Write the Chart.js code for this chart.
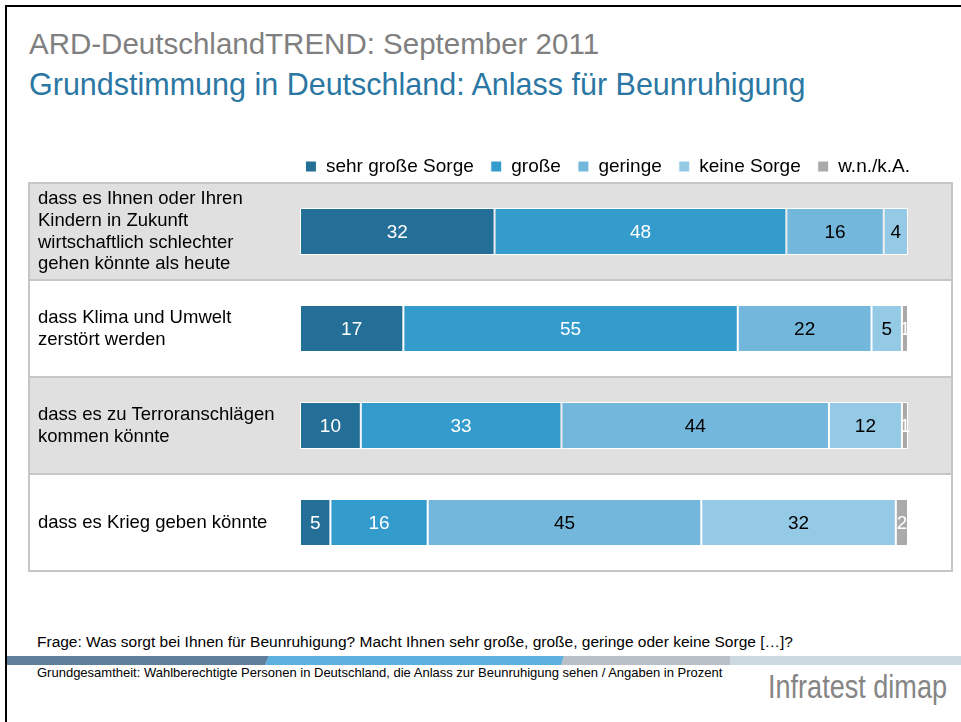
<!DOCTYPE html>
<html>
<head>
<meta charset="utf-8">
<script src="https://cdn.jsdelivr.net/npm/chart.js@4/dist/chart.umd.min.js"></script>
<style>
  body { margin: 0; background: #fff; font-family: "Liberation Sans", Arial, sans-serif; }
  #page { position: relative; width: 961px; height: 722px; overflow: hidden; }
  #frame { position: absolute; left: 5px; top: 5px; width: 970px; height: 730px; border-left: 2px solid #000; border-top: 2px solid #000; }
  .t { position: absolute; white-space: nowrap; }
  #title { left: 29px; top: 27px; font-size: 29.5px; color: #808080; }
  #sub { left: 29px; top: 67px; font-size: 30.5px; color: #2b77a3; }
  #chartBox { position: absolute; left: 28px; top: 137px; width: 925px; height: 436px; }
  #frage { left: 37px; top: 633px; font-size: 15.5px; color: #000; }
  #basis { left: 37px; top: 665px; font-size: 13px; color: #000; }
  #logo { left: 768px; top: 668px; font-size: 33px; color: #858585; transform: scaleX(0.82); transform-origin: left top; }
  .stripe { position: absolute; top: 656px; height: 9px; }
</style>
</head>
<body>
<div id="page">
  <div id="frame"></div>
  <div class="t" id="title">ARD-DeutschlandTREND: September 2011</div>
  <div class="t" id="sub">Grundstimmung in Deutschland: Anlass für Beunruhigung</div>
  <div id="chartBox"><canvas id="myChart"></canvas></div>
  <div class="t" id="frage">Frage: Was sorgt bei Ihnen für Beunruhigung? Macht Ihnen sehr große, große, geringe oder keine Sorge […]?</div>
  <div class="stripe" style="left:7px;width:262px;background:#5f7f9b;clip-path:polygon(0 0,100% 0,98.5% 100%,0 100%)"></div>
  <div class="stripe" style="left:265px;width:300px;background:#5eb0df;clip-path:polygon(1.3% 0,100% 0,99.2% 100%,0 100%)"></div>
  <div class="stripe" style="left:561px;width:175px;background:#b9c0c8;clip-path:polygon(1.5% 0,100% 0,98% 100%,0 100%)"></div>
  <div class="stripe" style="left:730px;width:231px;background:#ccd9e0"></div>
  <div class="t" id="basis">Grundgesamtheit: Wahlberechtigte Personen in Deutschland, die Anlass zur Beunruhigung sehen / Angaben in Prozent</div>
  <div class="t" id="logo">Infratest dimap</div>
</div>
<script>
const categories = [
  ["dass es Ihnen oder Ihren", "Kindern in Zukunft", "wirtschaftlich schlechter", "gehen könnte als heute"],
  ["dass Klima und Umwelt", "zerstört werden"],
  ["dass es zu Terroranschlägen", "kommen könnte"],
  ["dass es Krieg geben könnte"]
];
const seriesNames = ["sehr große Sorge", "große", "geringe", "keine Sorge", "w.n./k.A."];
const sehrGrosse = [32, 17, 10, 5];
const grosse = [48, 55, 33, 16];
const geringe = [16, 22, 44, 45];
const keine = [4, 5, 12, 32];
const wnka = [0, 1, 1, 2];

const colors = ["#246f97", "#349bcd", "#73b7dc", "#95cae6", "#aaaaaa"];
const labelColors = ["#fff", "#fff", "#000", "#000", "#fff"];
const font = '"Liberation Sans", Arial, sans-serif';

const rowBands = {
  id: 'rowBands',
  beforeDraw(chart) {
    const { ctx, chartArea } = chart;
    const y = chart.scales.y;
    const n = categories.length;
    const h = (chartArea.bottom - chartArea.top) / n;
    ctx.save();
    for (let i = 0; i < n; i++) {
      const c = y.getPixelForValue(i);
      ctx.fillStyle = i % 2 === 0 ? '#e0e0e0' : '#ffffff';
      ctx.fillRect(1, c - h / 2, chart.width - 2, h);
    }
    ctx.strokeStyle = '#c6c6c6';
    ctx.lineWidth = 2;
    for (let i = 1; i < n; i++) {
      const yy = Math.round(y.getPixelForValue(i) - h / 2);
      ctx.beginPath();
      ctx.moveTo(1, yy);
      ctx.lineTo(chart.width - 1, yy);
      ctx.stroke();
    }
    ctx.strokeRect(1, chartArea.top, chart.width - 2, chartArea.bottom - chartArea.top);
    ctx.restore();
  }
};

const valueLabels = {
  id: 'valueLabels',
  afterDatasetsDraw(chart) {
    const { ctx } = chart;
    ctx.save();
    ctx.font = '19px ' + font;
    ctx.textAlign = 'center';
    ctx.textBaseline = 'middle';
    chart.data.datasets.forEach((ds, di) => {
      const meta = chart.getDatasetMeta(di);
      meta.data.forEach((bar, i) => {
        const v = ds.data[i];
        if (!v) return;
        const p = bar.getProps(['x', 'base', 'y'], true);
        ctx.fillStyle = labelColors[di];
        ctx.fillText(String(v), (p.x + p.base) / 2, p.y + 1);
      });
    });
    ctx.restore();
  }
};

// nudge the legend so it lines up like the original slide
const shiftLegend = {
  id: 'shiftLegend',
  afterLayout(chart) {
    const lg = chart.legend;
    lg.left += 19;
    lg.right += 19;
    lg.top += 3;
    lg.bottom += 3;
  }
};

const values = [sehrGrosse, grosse, geringe, keine, wnka];

new Chart(document.getElementById('myChart'), {
  type: 'bar',
  data: {
    labels: categories,
    datasets: values.map((d, i) => ({
      label: seriesNames[i],
      data: d,
      backgroundColor: colors[i],
      borderColor: '#ffffff',
      borderWidth: 1,
      borderSkipped: false,
      barPercentage: 0.485,
      categoryPercentage: 1
    }))
  },
  options: {
    indexAxis: 'y',
    responsive: true,
    maintainAspectRatio: false,
    animation: false,
    layout: { padding: { left: 10, right: 45, top: 0, bottom: 2 } },
    plugins: {
      tooltip: { enabled: false },
      legend: {
        position: 'top',
        align: 'end',
        labels: {
          boxWidth: 11,
          boxHeight: 11,
          padding: 17,
          color: '#000',
          font: { family: font, size: 19 }
        }
      }
    },
    scales: {
      x: { stacked: true, min: 0, max: 100, display: false },
      y: {
        stacked: true,
        grid: { display: false },
        border: { display: false },
        afterFit(scale) {
          scale.width = 262;
          scale.paddingTop = 0;
          scale.paddingBottom = 0;
        },
        ticks: {
          crossAlign: 'far',
          color: '#000',
          font: { family: font, size: 18.5, lineHeight: 1.18 }
        }
      }
    }
  },
  plugins: [rowBands, valueLabels, shiftLegend]
});
</script>
</body>
</html>
